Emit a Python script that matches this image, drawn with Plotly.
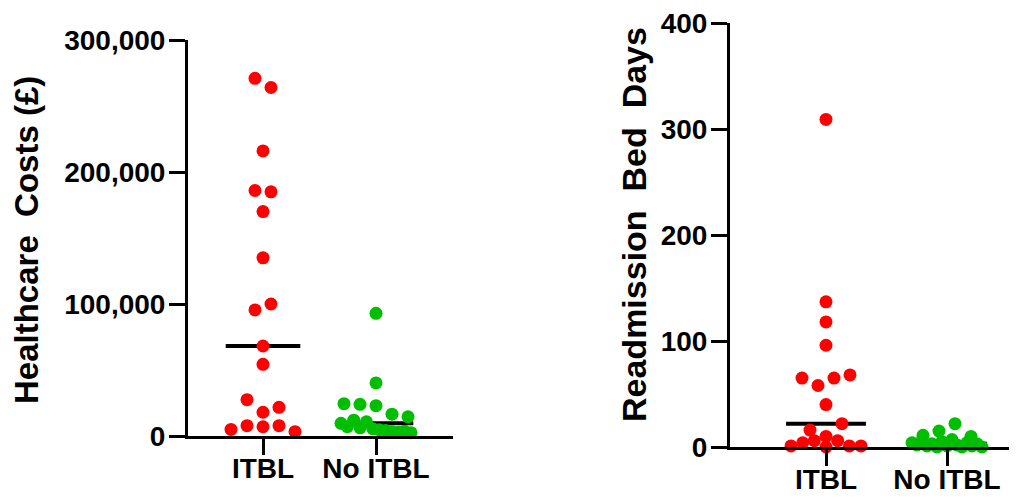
import statistics
import plotly.graph_objects as go

# ---------------- data ----------------
categories = ["ITBL", "No ITBL"]

cost_itbl = [271000, 264000, 216000, 186000, 185000, 170000, 135000,
             95500, 100000, 68200, 54300, 27500, 18000, 21700,
             5000, 7800, 7000, 7800, 3300]
cost_no_itbl = [92900, 40200, 24500, 24000, 23000, 16500,
                9600, 14600, 7000, 12000, 6200, 10800, 5500, 4800, 4200,
                3300, 2800, 3600, 2500]

days_itbl = [309, 137, 118, 96, 65, 58, 65, 68, 40, 16, 10, 22,
             1, 4, 6, 0, 6, 1, 1]
days_no_itbl = [11, 15, 22, 10,
                4, 2, 6, 1, 3, 0, 5, 1, 7, 2, 0, 4, 1, 3, 0]

cost_ticks = [0, 100000, 200000, 300000]
days_ticks = [0, 100, 200, 300, 400]

cost_title = "Healthcare\u00a0 Costs (£)"
days_title = "Readmission\u00a0 Bed\u00a0 Days"

# ---------------- layout constants (pixels, page coordinates) ----------------
PAGE_W, PAGE_H = 1017, 502
OFF = 8                       # default page body margin
W, H = PAGE_W - OFF, PAGE_H - OFF
FONT = "Liberation Sans, Arial, sans-serif"
RED = "#FF0000"
GREEN = "#00BF00"

left = dict(x0=188, x1=453, ytop=40, ybot=436, c0=263, c1=376, ymax=300000)
right = dict(x0=730, x1=1015, ytop=23, ybot=447, c0=826, c1=947, ymax=400)


def px_x(x):
    return (x - OFF) / W


def px_y(y):
    return (H - (y - OFF)) / H


def xrange_of(p):
    unit = p["c1"] - p["c0"]
    return [(p["x0"] - p["c0"]) / unit, (p["x1"] - p["c0"]) / unit]


def swarm(vals, px_per_val, px_per_cat, h=14.0, smax=16.0, wmax=70.0):
    """Row-based swarm layout: returns x offsets in category units."""
    order = sorted(range(len(vals)), key=lambda i: -vals[i])
    rows, cur = [], []
    for i in order:
        if cur and (vals[cur[0]] - vals[i]) * px_per_val > h:
            rows.append(cur)
            cur = []
        cur.append(i)
    rows.append(cur)
    off = [0.0] * len(vals)
    for r in rows:
        r = sorted(r)
        n = len(r)
        s = smax if n < 2 else min(smax, wmax / (n - 1))
        for k, i in enumerate(r):
            off[i] = (k - (n - 1) / 2) * s / px_per_cat
    return off


fig = go.Figure()


def add_panel(p, groups, xa, ya):
    px_per_val = (p["ybot"] - p["ytop"]) / p["ymax"]
    px_per_cat = p["c1"] - p["c0"]
    # median lines first
    for ci, (vals, col) in enumerate(groups):
        m = statistics.median(vals)
        fig.add_trace(go.Scatter(
            x=[ci - 0.33, ci + 0.33], y=[m, m], mode="lines",
            line=dict(color="black", width=4), showlegend=False,
            hoverinfo="skip", xaxis=xa, yaxis=ya, cliponaxis=False))
    for ci, (vals, col) in enumerate(groups):
        off = swarm(vals, px_per_val, px_per_cat)
        fig.add_trace(go.Scatter(
            x=[ci + o for o in off], y=vals, mode="markers",
            marker=dict(color=col, size=13, line=dict(width=0)),
            showlegend=False, xaxis=xa, yaxis=ya, cliponaxis=False,
            name=categories[ci]))


add_panel(left, [(cost_itbl, RED), (cost_no_itbl, GREEN)], "x", "y")
add_panel(right, [(days_itbl, RED), (days_no_itbl, GREEN)], "x2", "y2")

axis_style = dict(
    showline=True, linecolor="black", linewidth=3,
    ticks="outside", ticklen=16, tickwidth=3, tickcolor="black",
    showgrid=False, zeroline=False, automargin=False,
    ticklabeloverflow="allow",
    tickfont=dict(family=FONT, size=28, color="black", weight="bold"),
)

fig.update_layout(
    width=W, height=H,
    margin=dict(l=0, r=0, t=0, b=0, autoexpand=False),
    paper_bgcolor="white", plot_bgcolor="white",
    xaxis=dict(domain=[px_x(left["x0"]), px_x(left["x1"])], range=xrange_of(left),
               tickvals=[0, 1], ticktext=categories, anchor="y",
               ticklabelstandoff=-11, **axis_style),
    yaxis=dict(domain=[px_y(left["ybot"]), px_y(left["ytop"])],
               range=[0, left["ymax"]], tickvals=cost_ticks,
               tickformat=",", anchor="x", ticklabelstandoff=-2, **axis_style),
    xaxis2=dict(domain=[px_x(right["x0"]), px_x(right["x1"])], range=xrange_of(right),
                tickvals=[0, 1], ticktext=categories, anchor="y2",
                ticklabelstandoff=-11, **axis_style),
    yaxis2=dict(domain=[px_y(right["ybot"]), px_y(right["ytop"])],
                range=[0, right["ymax"]], tickvals=days_ticks,
                anchor="x2", ticklabelstandoff=-2, **axis_style),
    annotations=[
        dict(text=cost_title, xref="paper", yref="paper",
             x=px_x(26), y=px_y(240), xanchor="center", yanchor="middle",
             textangle=-90, showarrow=False,
             font=dict(family=FONT, size=33, color="black", weight="bold")),
        dict(text=days_title, xref="paper", yref="paper",
             x=px_x(634), y=px_y(225), xanchor="center", yanchor="middle",
             textangle=-90, showarrow=False,
             font=dict(family=FONT, size=34, color="black", weight="bold")),
    ],
)

fig.write_html("out.html")
